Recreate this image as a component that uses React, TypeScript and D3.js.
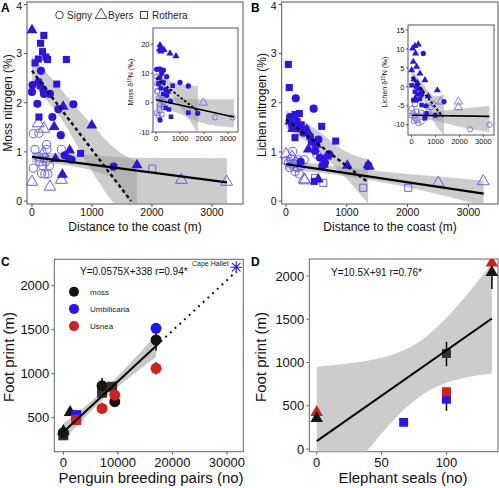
import React from 'react';
import * as d3 from 'd3';

type P = [number, number];
type B = [number, number, number];

// ---------- Panel A: moss nitrogen (%) vs distance ----------
const mossSignyFilled: P[] = [[10,2.36],[150,2.65],[190,2.27],[0,2.22],[200,2.18],[300,2.18],[90,1.98],[340,1.71],[440,1.87],[690,1.97],[480,1.34],[545,0.93],[617,0.86],[660,0.84],[1360,0.70],[110,2.42]];
const mossByersFilled: P[] = [[0,3.48],[520,1.92],[370,1.51],[997,1.54],[628,1.03],[391,0.86],[507,0.54],[1750,0.73]];
const mossRotheraFilled: P[] = [[198,3.37],[143,3.21],[176,3.04],[231,2.93],[105,2.89],[50,2.81],[260,2.88],[573,2.88],[413,2.38],[140,2.35],[116,1.71],[810,0.97]];
const mossSignyOpen: P[] = [[22,1.37],[116,1.38],[50,1.05],[22,0.67],[243,1.15],[250,1.05],[490,1.05],[132,0.80],[231,0.80],[290,0.72],[180,0.72],[160,0.56],[215,0.55],[265,0.55],[110,0.90],[200,0.88]];
const mossByersOpen: P[] = [[105,1.58],[198,1.47],[187,0.97],[0,0.39],[298,0.29],[490,0.43],[2490,0.43],[3245,0.39]];
const mossRotheraOpen: P[] = [[2005,0.66]];
const mossLineAll: P[] = [[0,0.90],[3250,0.38]];
const mossLineNear: P[] = [[0,2.65],[1650,0]];
const mossBandAll: B[] = [[0,0.78,1.0],[500,0.74,0.97],[1000,0.62,0.93],[1350,0.45,0.9],[1750,-0.1,0.88],[3250,-0.1,0.87]];
const mossBandNear: B[] = [[0,2.38,2.95],[500,1.65,2.25],[1000,0.6,1.55],[1400,-0.1,1.05],[1750,-0.5,0.8]];

// ---------- Inset A: moss d15N ----------
const mossD15SignyFilled: P[] = [[28,11.4],[167,11.4],[306,11.1],[236,10],[445,8.9],[1000,6.9],[1348,5.7],[167,-5.9],[1737,-3.6],[100,6.5],[300,7],[200,5],[450,2.5],[600,0.5],[400,4.5],[150,8.5]];
const mossD15ByersFilled: P[] = [[167,19.7],[236,18.5],[139,18.2],[334,18],[584,16.8],[834,15.9],[200,17.5]];
const mossD15RotheraFilled: P[] = [[695,5.8],[514,3.8],[542,-2.3],[625,-4.8],[1348,-3.4],[300,3],[400,-1.8]];
const mossD15SignyOpen: P[] = [[28,8.9],[28,6.6],[60,3.8],[100,1.5],[236,0.9],[167,-0.8],[306,-1.4],[3197,-5],[2460,-5],[220,2],[150,11.5]];
const mossD15ByersOpen: P[] = [[1974,0]];
const mossD15RotheraOpen: P[] = [[28,-3.6],[100,-4.4],[236,-4],[139,-1.7],[320,0.3],[50,4],[150,-2.5]];
const mossD15LineAll: P[] = [[0,1.0],[3250,-4.9]];
const mossD15LineNear: P[] = [[0,8.4],[1700,-2.6]];
const mossD15BandAll: B[] = [[0,-1,3],[500,-2.2,2.2],[1000,-3.8,1.5],[1750,-6.5,1.2],[3250,-8.5,1.2]];
const mossD15BandNear: B[] = [[0,6.5,10.5],[500,3.8,7.8],[1000,-1.5,6.2],[1400,-6,5.9],[1750,-10.5,5.8]];

// ---------- Panel B: lichen nitrogen (%) ----------
const lichenSignyFilled: P[] = [[160,2.09],[455,1.88],[66,1.71],[285,1.39],[395,1.31],[532,1.25],[559,0.88],[712,0.95],[640,0.78],[241,0.80],[1354,0.72],[100,1.55],[200,1.48],[480,1.02],[600,0.72]];
const lichenByersFilled: P[] = [[110,1.47],[367,1.05],[669,0.91],[614,0.74],[1008,0.72],[531,0.44],[1350,0.73],[60,1.62],[340,1.45],[500,1.15],[1370,0.70]];
const lichenRotheraFilled: P[] = [[38,2.78],[54,2.31],[219,1.78],[148,1.76],[66,1.66],[148,1.29],[324,1.46],[587,1.52],[817,1.22],[465,0.40],[100,1.52],[250,1.55],[180,1.62],[420,1.2]];
const lichenSignyOpen: P[] = [[110,1.01],[0,0.82],[40,0.78],[80,0.86],[120,0.76],[165,0.80],[200,0.84],[60,0.68],[130,0.70],[180,0.68],[219,0.55],[150,0.60],[300,0.84],[504,0.95],[250,0.72]];
const lichenByersOpen: P[] = [[0,0.95],[296,0.44],[310,0.42],[2504,0.37],[3244,0.40],[100,0.9]];
const lichenRotheraOpen: P[] = [[477,0.47],[614,0.37],[1271,0.27],[2011,0.27]];
const lichenLineAll: P[] = [[0,0.75],[3250,0.15]];
const lichenLineNear: P[] = [[0,1.66],[1350,0.38]];
const lichenBandAll: B[] = [[0,0.64,0.84],[1000,0.5,0.68],[2000,0.28,0.55],[3250,-0.1,0.42]];
const lichenBandNear: B[] = [[0,1.48,1.85],[500,1.05,1.45],[1000,0.45,1.0],[1350,-0.05,0.85]];

// ---------- Inset B: lichen d15N ----------
const lichenD15SignyFilled: P[] = [[488,8.8],[1353,-3.9],[976,-7.5],[200,0],[420,-2],[300,-0.5],[600,-5]];
const lichenD15ByersFilled: P[] = [[140,10.8],[279,11.2],[42,10.1],[167,8.8],[70,6.6],[0,4.4],[209,5.3],[349,3.5],[558,1.75],[1074,-0.9],[100,2],[250,1],[420,-1],[700,-2.5],[150,-3]];
const lichenD15RotheraFilled: P[] = [[0,0.4],[140,-1.3],[70,-3.5],[418,-4.8],[628,-7],[558,-8.3],[350,-3.2],[250,-2],[200,-3.5]];
const lichenD15SignyOpen: P[] = [[0,-5.7],[70,-7],[140,-8.3],[209,-8.8],[279,-9.6],[418,-9.2],[558,-7.9],[698,-6.6],[880,-4.4],[810,-5.4],[1050,-7.5],[2441,-11.2],[3250,-10]];
const lichenD15ByersOpen: P[] = [[1213,-3.9],[1953,-3.9],[1953,-5.4]];
const lichenD15RotheraOpen: P[] = [[140,-4.6],[0,-7.5],[209,-6.5],[100,-9],[400,-6.8]];
const lichenD15LineAll: P[] = [[0,-7.5],[3250,-7.8]];
const lichenD15LineNear: P[] = [[0,2.6],[1300,-7.9]];
const lichenD15BandAll: B[] = [[0,-8.3,-6.8],[1000,-9,-6.5],[2000,-10.5,-5.8],[3250,-12,-5]];
const lichenD15BandNear: B[] = [[0,1,4.5],[500,-3.5,0.5],[1000,-10,-2.5],[1350,-12.7,-2]];

// ---------- Panel C: footprint vs penguin pairs ----------
const cMossCircle: P[] = [[0,330],[7100,864],[9430,682],[17000,1383]];
const cMossSquare: P[] = [[7100,784],[8940,852],[0,300]];
const cMossTriangle: P[] = [[1240,561],[0,345]];
const cUmbCircle: P[] = [[17000,1516]];
const cUmbSquare: P[] = [[2350,530]];
const cUsneaCircle: P[] = [[7100,606],[9430,758],[17000,1061]];
const cUsneaSquare: P[] = [[2350,474]];
const cErrors: B[] = [[0,260,400],[7100,800,950],[17000,1260,1560],[7100,545,670],[17000,990,1130],[9430,640,720],[9430,720,790]];
const cFitLine: P[] = [[0,338],[17000,1315.5]];
const cExtLine: P[] = [[17000,1315.5],[31700,2160]];
const cBand: B[] = [[0,243,433],[2500,410,554],[5000,570,681],[7500,719,820],[10000,852,974],[12500,976,1138],[15000,1096,1305],[17000,1190,1441]];
const capeHallet: P = [31700, 2210];
const cLegend = ['moss', 'Umbilicaria', 'Usnea'];

// ---------- Panel D: footprint vs elephant seals ----------
const dMossSquare: P[] = [[100,1105]];
const dMossTriangle: P[] = [[0,354],[135,2040]];
const dUmbSquare: P[] = [[67,308],[100,574]];
const dUsneaSquare: P[] = [[100,662]];
const dUsneaTriangle: P[] = [[0,424],[135,2151]];
const dErrors: B[] = [[100,958,1239],[100,442,700],[135,1850,2040]];
const dFitLine: P[] = [[0,91],[135,1508.5]];
const dBand: B[] = [[0,-769,951],[20,-378,980],[40,0,1022],[60,345,1097],[80,612,1250],[100,765,1517],[120,840,1862],[135,874,2143]];

// ticks
const nTicksY = [0, 1, 2, 3, 4];
const distTicks = [0, 1000, 2000, 3000];
const mossD15Ticks = [-10, 0, 10, 20];
const lichenD15Ticks = [-10, -5, 0, 5, 10, 15];
const cTicksX = [0, 10000, 20000, 30000];
const cTicksY = [500, 1000, 1500, 2000];
const dTicksX = [0, 50, 100];
const dTicksY = [0, 500, 1000, 1500, 2000];

const FONT = "'Liberation Sans', Arial, Helvetica, sans-serif";
const FILL_BLUE = '#2b14e4';
const OPEN_BLUE = '#6a5eec';
const C_BLACK = '#141414';
const C_BLUE = '#2316f0';
const C_RED = '#d2201c';

const symPath = (shape: string, size: number) => {
  const t = shape === 'c' ? d3.symbolCircle : shape === 't' ? d3.symbolTriangle : d3.symbolSquare;
  return d3.symbol().type(t).size(size)() as string;
};

function Pts({ data, xs, ys, shape, size, fill, stroke, sw = 1 }: any) {
  const d = symPath(shape, size);
  return (
    <g>
      {data.map((p: P, i: number) => (
        <path key={i} d={d} transform={`translate(${xs(p[0])},${ys(p[1])})`} fill={fill} stroke={stroke} strokeWidth={sw} />
      ))}
    </g>
  );
}

function Band({ data, xs, ys, fill = '#9a9a9a', op = 0.5, clip }: any) {
  const a = d3.area<B>().x(d => xs(d[0])).y0(d => ys(d[1])).y1(d => ys(d[2])).curve(d3.curveMonotoneX);
  return <path d={a(data) as string} fill={fill} opacity={op} clipPath={clip} />;
}

function Ln({ data, xs, ys, dash, w = 2, color = '#000', cap = 'butt' }: any) {
  const l = d3.line<P>().x(d => xs(d[0])).y(d => ys(d[1]));
  return <path d={l(data) as string} fill="none" stroke={color} strokeWidth={w} strokeDasharray={dash} strokeLinecap={cap} />;
}

function Axes({ xs, ys, xTicks, yTicks, fs, xDy, yDx, tick = 3, color = '#555', bg }: any) {
  const [x0, x1] = xs.range();
  const [y0, y1] = ys.range();
  return (
    <g fontFamily={FONT} fill="#111">
      <rect x={x0} y={y1} width={x1 - x0} height={y0 - y1} fill={bg || 'none'} stroke={color} strokeWidth={1} />
      {xTicks.map((t: number) => (
        <g key={'x' + t}>
          <line x1={xs(t)} x2={xs(t)} y1={y0} y2={y0 + tick} stroke={color} />
          <text x={xs(t)} y={y0 + xDy} textAnchor="middle" fontSize={fs}>{t}</text>
        </g>
      ))}
      {yTicks.map((t: number) => (
        <g key={'y' + t}>
          <line x1={x0 - tick} x2={x0} y1={ys(t)} y2={ys(t)} stroke={color} />
          <text x={x0 - yDx} y={Math.max(ys(t) + fs * 0.36, fs * 0.98)} textAnchor="end" fontSize={fs}>{t}</text>
        </g>
      ))}
    </g>
  );
}

function ClipRect({ id, xs, ys }: any) {
  const [x0, x1] = xs.range();
  const [y0, y1] = ys.range();
  return (
    <clipPath id={id}>
      <rect x={x0} y={y1} width={x1 - x0} height={y0 - y1} />
    </clipPath>
  );
}

function Errs({ data, xs, ys, color = '#000', w = 1.5 }: any) {
  return (
    <g>
      {data.map((e: B, i: number) => (
        <line key={i} x1={xs(e[0])} x2={xs(e[0])} y1={ys(e[1])} y2={ys(e[2])} stroke={color} strokeWidth={w} />
      ))}
    </g>
  );
}

function SitePoints({ xs, ys, sf, tf, rf, so, to, ro, big }: any) {
  const cs = big ? 52 : 22, ts = big ? 52 : 22, ss = big ? 50 : 21;
  return (
    <g>
      <Pts data={so} xs={xs} ys={ys} shape="c" size={cs} fill="none" stroke={OPEN_BLUE} sw={big ? 1 : 0.8} />
      <Pts data={to} xs={xs} ys={ys} shape="t" size={ts + 8} fill="none" stroke={OPEN_BLUE} sw={big ? 1 : 0.8} />
      <Pts data={ro} xs={xs} ys={ys} shape="s" size={ss} fill="none" stroke={OPEN_BLUE} sw={big ? 1 : 0.8} />
      <Pts data={sf} xs={xs} ys={ys} shape="c" size={cs} fill={FILL_BLUE} stroke="none" />
      <Pts data={tf} xs={xs} ys={ys} shape="t" size={ts} fill={FILL_BLUE} stroke="none" />
      <Pts data={rf} xs={xs} ys={ys} shape="s" size={ss} fill={FILL_BLUE} stroke="none" />
    </g>
  );
}

function D15Label({ x, y, name }: any) {
  return (
    <text transform={`translate(${x},${y}) rotate(-90)`} textAnchor="middle" fontSize={7} fontFamily={FONT} fill="#111">
      {name} δ<tspan dy={-2.5} fontSize={5}>15</tspan><tspan dy={2.5}>N (‰)</tspan>
    </text>
  );
}

export default function App() {
  const xA = d3.scaleLinear().domain([-83, 3517]).range([27, 243]);
  const yA = d3.scaleLinear().domain([-0.06, 4.05]).range([204, 2]);
  const xB = d3.scaleLinear().domain([-71, 3487]).range([281.7, 498]);
  const yB = d3.scaleLinear().domain([-0.06, 4.05]).range([204, 2]);
  const xAi = d3.scaleLinear().domain([-125, 3420]).range([153, 238]);
  const yAi = d3.scaleLinear().domain([-10, 25.5]).range([132, 28]);
  const xBi = d3.scaleLinear().domain([-150, 3440]).range([408, 494]);
  const yBi = d3.scaleLinear().domain([-12.7, 16.3]).range([135, 25]);
  const xC = d3.scaleLinear().domain([-1660, 33000]).range([54.3, 243.3]);
  const yC = d3.scaleLinear().domain([114, 2300]).range([451.7, 259.3]);
  const xD = d3.scaleLinear().domain([-5.7, 139.7]).range([309.3, 498]);
  const yD = d3.scaleLinear().domain([-31, 2196]).range([451.7, 259]);

  const chx = xC(capeHallet[0]), chy = yC(capeHallet[1]);
  const star = [0, 45, 90, 135].map(a => {
    const r = 6, rad = (a * Math.PI) / 180;
    return `M${chx - r * Math.cos(rad)},${chy - r * Math.sin(rad)}L${chx + r * Math.cos(rad)},${chy + r * Math.sin(rad)}`;
  }).join('');

  return (
    <svg width={499} height={488} style={{ position: 'absolute', left: 0, top: 0, background: '#fff' }} fontFamily={FONT}>
      <defs>
        <ClipRect id="clipA" xs={xA} ys={yA} />
        <ClipRect id="clipB" xs={xB} ys={yB} />
        <ClipRect id="clipAi" xs={xAi} ys={yAi} />
        <ClipRect id="clipBi" xs={xBi} ys={yBi} />
        <ClipRect id="clipC" xs={xC} ys={yC} />
        <ClipRect id="clipD" xs={xD} ys={yD} />
      </defs>
      <rect width={499} height={488} fill="#fff" />

      {/* ---------------- Panel A ---------------- */}
      <Axes xs={xA} ys={yA} xTicks={distTicks} yTicks={nTicksY} fs={10.5} xDy={12} yDx={5} />
      <Band data={mossBandAll} xs={xA} ys={yA} clip="url(#clipA)" />
      <Band data={mossBandNear} xs={xA} ys={yA} clip="url(#clipA)" />
      <SitePoints xs={xA} ys={yA} big sf={mossSignyFilled} tf={mossByersFilled} rf={mossRotheraFilled} so={mossSignyOpen} to={mossByersOpen} ro={mossRotheraOpen} />
      <Ln data={mossLineAll} xs={xA} ys={yA} w={2.2} />
      <Ln data={mossLineNear} xs={xA} ys={yA} w={2.4} dash="3.5,3" />
      <text x={135} y={231} textAnchor="middle" fontSize={12} fill="#111">Distance to the coast (m)</text>
      <text transform="translate(12,103) rotate(-90)" textAnchor="middle" fontSize={12} fill="#111">Moss nitrogen (%)</text>
      <text x={1} y={12} fontSize={12} fontWeight="bold" fill="#000">A</text>
      {/* legend */}
      <g fontSize={10} fill="#222">
        <circle cx={59.5} cy={15} r={3.8} fill="none" stroke="#333" strokeWidth={0.9} />
        <text x={67} y={18.5}>Signy</text>
        <path d={symPath('t', 60)} transform="translate(101,15)" fill="none" stroke="#333" strokeWidth={0.9} />
        <text x={108} y={18.5}>Byers</text>
        <rect x={140.5} y={11.5} width={7} height={7} fill="none" stroke="#333" strokeWidth={0.9} />
        <text x={152} y={18.5}>Rothera</text>
      </g>
      {/* inset A */}
      <Axes xs={xAi} ys={yAi} xTicks={distTicks} yTicks={mossD15Ticks} fs={7.5} xDy={9} yDx={3.5} tick={2} color="#555" bg="#fff" />
      <Band data={mossD15BandAll} xs={xAi} ys={yAi} clip="url(#clipAi)" />
      <Band data={mossD15BandNear} xs={xAi} ys={yAi} clip="url(#clipAi)" />
      <SitePoints xs={xAi} ys={yAi} sf={mossD15SignyFilled} tf={mossD15ByersFilled} rf={mossD15RotheraFilled} so={mossD15SignyOpen} to={mossD15ByersOpen} ro={mossD15RotheraOpen} />
      <Ln data={mossD15LineAll} xs={xAi} ys={yAi} w={1.6} />
      <Ln data={mossD15LineNear} xs={xAi} ys={yAi} w={1.8} dash="2.5,2" />
      <D15Label x={133} y={82} name="Moss" />

      {/* ---------------- Panel B ---------------- */}
      <Axes xs={xB} ys={yB} xTicks={distTicks} yTicks={nTicksY} fs={10.5} xDy={12} yDx={5} />
      <Band data={lichenBandAll} xs={xB} ys={yB} clip="url(#clipB)" />
      <Band data={lichenBandNear} xs={xB} ys={yB} clip="url(#clipB)" />
      <SitePoints xs={xB} ys={yB} big sf={lichenSignyFilled} tf={lichenByersFilled} rf={lichenRotheraFilled} so={lichenSignyOpen} to={lichenByersOpen} ro={lichenRotheraOpen} />
      <Ln data={lichenLineAll} xs={xB} ys={yB} w={2.2} />
      <Ln data={lichenLineNear} xs={xB} ys={yB} w={2.4} dash="3.5,3" />
      <text x={390} y={231} textAnchor="middle" fontSize={12} fill="#111">Distance to the coast (m)</text>
      <text transform="translate(266,105) rotate(-90)" textAnchor="middle" fontSize={12} fill="#111">Lichen nitrogen (%)</text>
      <text x={251} y={12} fontSize={12} fontWeight="bold" fill="#000">B</text>
      {/* inset B */}
      <Axes xs={xBi} ys={yBi} xTicks={distTicks} yTicks={lichenD15Ticks} fs={7.5} xDy={8.5} yDx={3.5} tick={2} color="#555" bg="#fff" />
      <Band data={lichenD15BandAll} xs={xBi} ys={yBi} clip="url(#clipBi)" />
      <Band data={lichenD15BandNear} xs={xBi} ys={yBi} clip="url(#clipBi)" />
      <SitePoints xs={xBi} ys={yBi} sf={lichenD15SignyFilled} tf={lichenD15ByersFilled} rf={lichenD15RotheraFilled} so={lichenD15SignyOpen} to={lichenD15ByersOpen} ro={lichenD15RotheraOpen} />
      <Ln data={lichenD15LineAll} xs={xBi} ys={yBi} w={1.6} />
      <Ln data={lichenD15LineNear} xs={xBi} ys={yBi} w={1.8} dash="2.5,2" />
      <D15Label x={387} y={82} name="Lichen" />

      {/* ---------------- Panel C ---------------- */}
      <Axes xs={xC} ys={yC} xTicks={cTicksX} yTicks={cTicksY} fs={13} xDy={15} yDx={5} color="#666" />
      <Band data={cBand} xs={xC} ys={yC} fill="#9a9a9a" op={0.55} clip="url(#clipC)" />
      <Errs data={cErrors} xs={xC} ys={yC} />
      <Pts data={cMossSquare} xs={xC} ys={yC} shape="s" size={100} fill="#333" stroke="none" />
      <Pts data={cMossTriangle} xs={xC} ys={yC} shape="t" size={70} fill={C_BLACK} stroke="none" />
      <Pts data={cUmbSquare} xs={xC} ys={yC} shape="s" size={100} fill={C_BLUE} stroke="none" />
      <Pts data={cUsneaSquare} xs={xC} ys={yC} shape="s" size={100} fill={C_RED} stroke="none" />
      <Pts data={cMossCircle} xs={xC} ys={yC} shape="c" size={95} fill={C_BLACK} stroke="none" />
      <Pts data={cUsneaCircle} xs={xC} ys={yC} shape="c" size={95} fill={C_RED} stroke="none" />
      <Pts data={cUmbCircle} xs={xC} ys={yC} shape="c" size={95} fill={C_BLUE} stroke="none" />
      <Ln data={cFitLine} xs={xC} ys={yC} w={2} />
      <Ln data={cExtLine} xs={xC} ys={yC} w={2} dash="1.8,4.6" />
      <path d={star} stroke={C_BLUE} strokeWidth={1.1} fill="none" />
      <text x={192} y={266} fontSize={7} fill="#222">Cape Hallet</text>
      <text x={80} y={275} fontSize={10} fill="#111">Y=0.0575X+338 r=0.94*</text>
      {cLegend.map((name, i) => (
        <g key={name}>
          <circle cx={74} cy={291.7 + i * 17.2} r={5} fill={[C_BLACK, C_BLUE, C_RED][i]} />
          <text x={90} y={294.7 + i * 17.2} fontSize={8} fill="#222">{name}</text>
        </g>
      ))}
      <text x={151} y={483} textAnchor="middle" fontSize={15} fill="#111">Penguin breeding pairs (no)</text>
      <text transform="translate(14,357) rotate(-90)" textAnchor="middle" fontSize={15} fill="#111">Foot print (m)</text>
      <text x={1} y={266} fontSize={12} fontWeight="bold" fill="#000">C</text>

      {/* ---------------- Panel D ---------------- */}
      <Axes xs={xD} ys={yD} xTicks={dTicksX} yTicks={dTicksY} fs={13} xDy={15} yDx={5} color="#666" />
      <Band data={dBand} xs={xD} ys={yD} fill="#bbbbbb" op={0.75} clip="url(#clipD)" />
      <Errs data={dErrors} xs={xD} ys={yD} />
      <g clipPath="url(#clipD)">
        <Pts data={dUsneaTriangle} xs={xD} ys={yD} shape="t" size={68} fill={C_RED} stroke="none" />
        <Pts data={dMossTriangle} xs={xD} ys={yD} shape="t" size={68} fill={C_BLACK} stroke="none" />
        <Pts data={dUmbSquare} xs={xD} ys={yD} shape="s" size={80} fill={C_BLUE} stroke="none" />
        <Pts data={dUsneaSquare} xs={xD} ys={yD} shape="s" size={80} fill={C_RED} stroke="none" />
        <Pts data={dMossSquare} xs={xD} ys={yD} shape="s" size={80} fill="#333" stroke="none" />
      </g>
      <Ln data={dFitLine} xs={xD} ys={yD} w={2} />
      <text x={331} y={276} fontSize={10} fill="#111">Y=10.5X+91 r=0.76*</text>
      <text x={403} y={483} textAnchor="middle" fontSize={15} fill="#111">Elephant seals (no)</text>
      <text transform="translate(266,357) rotate(-90)" textAnchor="middle" fontSize={15} fill="#111">Foot print (m)</text>
      <text x={251} y={266} fontSize={12} fontWeight="bold" fill="#000">D</text>
    </svg>
  );
}
